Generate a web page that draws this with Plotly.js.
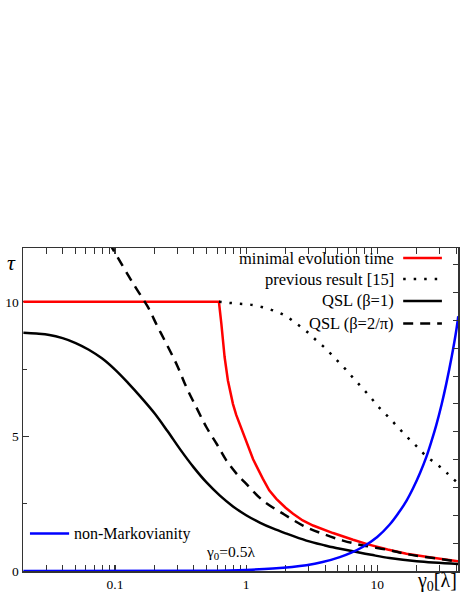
<!DOCTYPE html>
<html>
<head>
<meta charset="utf-8">
<script src="https://cdn.plot.ly/plotly-3.0.1.min.js"></script>
<style>
  html, body { margin: 0; padding: 0; background: #fff; }
  #chart { width: 463px; height: 599px; }
</style>
</head>
<body>
<div id="chart"></div>
<script>
// gamma_0 in units of lambda
const redX = [0.02, 0.62, 0.647, 0.685, 0.726, 0.76, 0.793, 0.84, 0.892, 0.974, 1.03, 1.13, 1.34, 1.5, 1.7, 2, 2.28, 2.7, 3.24, 4.6, 6.54, 8.5, 12, 16.7, 25, 41.5];
const redY = [10, 10, 9.19, 7.95, 7.08, 6.6, 6.21, 5.8, 5.47, 4.95, 4.65, 4.15, 3.43, 3.0, 2.68, 2.35, 2.13, 1.88, 1.69, 1.41, 1.16, 0.99, 0.8, 0.64, 0.51, 0.36];

const prevX = [0.62, 0.75, 0.89, 1.06, 1.31, 1.65, 2.03, 2.42, 2.88, 3.43, 4.09, 4.79, 5.6, 6.56, 7.69, 8.98, 10.4, 12.3, 14.4, 16.9, 20, 23.7, 28.6, 34, 41.5];
const prevY = [10, 9.96, 9.93, 9.9, 9.81, 9.66, 9.46, 9.19, 8.91, 8.57, 8.24, 7.89, 7.55, 7.17, 6.8, 6.43, 6.06, 5.7, 5.34, 4.98, 4.63, 4.26, 3.96, 3.64, 3.25];

const qslX = [0.02, 0.0251, 0.0316, 0.0398, 0.0501, 0.0631, 0.0794, 0.1, 0.126, 0.158, 0.2, 0.251, 0.316, 0.398, 0.501, 0.631, 0.794, 1, 1.27, 1.6, 2, 2.88, 4, 4.6, 6.54, 9, 12.4, 20, 41.5];
const qslY = [8.85, 8.82, 8.77, 8.65, 8.47, 8.22, 7.9, 7.48, 6.98, 6.45, 5.86, 5.2, 4.5, 3.85, 3.28, 2.8, 2.4, 2.07, 1.8, 1.58, 1.4, 1.13, 0.95, 0.88, 0.73, 0.6, 0.48, 0.36, 0.26];

const qsl2X = [0.09, 0.12, 0.145, 0.178, 0.21, 0.246, 0.3, 0.35, 0.42, 0.497, 0.6, 0.706, 0.85, 0.974, 1.34, 1.91, 2.71, 3.85, 5.48, 7.8, 12, 16.7, 25, 41.5];
const qsl2Y = [12.2, 11.16, 10.5, 9.81, 9.1, 8.45, 7.6, 6.83, 6.05, 5.35, 4.7, 4.11, 3.6, 3.3, 2.62, 2.13, 1.69, 1.38, 1.13, 0.95, 0.79, 0.63, 0.5, 0.35];

// non-Markovianity, right axis (no labels)
const nmX = [0.02, 0.5, 1, 1.6, 2.88, 3.83, 5.18, 6.35, 7.8, 10, 12.4, 14.5, 16.7, 18.8, 21.2, 23.7, 26, 28.2, 31, 33.6, 37, 40.2, 41.5];
const nmY = [0, 0.01, 0.04, 0.09, 0.21, 0.32, 0.5, 0.66, 0.87, 1.22, 1.66, 2.08, 2.52, 2.98, 3.52, 4.1, 4.68, 5.24, 5.99, 6.72, 7.7, 8.68, 9.15];

const xTicks = [0.1, 1, 10];
const xTickText = ['0.1', '1', '10'];
const xMinor = [0.03, 0.04, 0.05, 0.06, 0.07, 0.08, 0.09,
                0.2, 0.3, 0.4, 0.5, 0.6, 0.7, 0.8, 0.9,
                2, 3, 4, 5, 6, 7, 8, 9, 20, 30, 40];
const yTicks = [0, 5, 10];

const legendNames = ['minimal evolution time', 'previous result [15]', 'QSL (β=1)', 'QSL (β=2/π)'];

const FONT = 'Times New Roman, Liberation Serif, Tinos, DejaVu Serif, serif';
const AX = '#333';
const DOT = '2.5px,8px';
const DASH = '10px,7px';

const traces = [
  {x: redX, y: redY, mode: 'lines', line: {color: '#ff0000', width: 2.5}, name: legendNames[0]},
  {x: prevX, y: prevY, mode: 'lines', line: {color: '#000', width: 2.5, dash: DOT, shape: 'spline'}, name: legendNames[1]},
  {x: qslX, y: qslY, mode: 'lines', line: {color: '#000', width: 2.5, shape: 'spline'}, name: legendNames[2]},
  {x: qsl2X, y: qsl2Y, mode: 'lines', line: {color: '#000', width: 2.5, dash: DASH, shape: 'spline'}, name: legendNames[3]},
  {x: nmX, y: nmY, mode: 'lines', yaxis: 'y2', line: {color: '#0000ff', width: 2.5, shape: 'spline'}, name: 'non-Markovianity'}
];
traces.forEach(t => { t.showlegend = false; t.hoverinfo = 'skip'; });

// legend keys: text on the left, line sample on the right
const keyRows = [0.969, 0.904, 0.836, 0.766];
const keyStyles = [
  {color: '#ff0000', dash: 'solid'},
  {color: '#000', dash: DOT},
  {color: '#000', dash: 'solid'},
  {color: '#000', dash: DASH}
];
const annotations = legendNames.map((n, i) => ({
  xref: 'paper', yref: 'paper', x: 0.857, y: keyRows[i], xanchor: 'right', yanchor: 'middle',
  text: n, showarrow: false, font: {family: FONT, size: 16.5, color: '#000'}
}));
const shapes = keyStyles.map((s, i) => ({
  type: 'line', xref: 'paper', yref: 'paper', x0: 0.874, x1: 0.963, y0: keyRows[i], y1: keyRows[i],
  line: {color: s.color, width: 2.5, dash: s.dash}
}));
shapes.push({
  type: 'line', xref: 'paper', yref: 'paper', x0: 0.016, x1: 0.106, y0: 0.116, y1: 0.116,
  line: {color: '#0000ff', width: 2.5}
});
annotations.push(
  {xref: 'paper', yref: 'paper', x: 0.112, y: 0.116, xanchor: 'left', yanchor: 'middle',
   text: 'non-Markovianity', showarrow: false, font: {family: FONT, size: 16, color: '#000'}},
  {xref: 'paper', yref: 'paper', x: 0.476, y: 0.056, xanchor: 'center', yanchor: 'middle',
   text: 'γ<sub>0</sub>=0.5λ', showarrow: false, font: {family: FONT, size: 15.5, color: '#000'}},
  {xref: 'paper', yref: 'paper', x: -0.026, y: 0.954, xanchor: 'center', yanchor: 'middle',
   text: '<i>τ</i>', showarrow: false, font: {family: FONT, size: 22, color: '#000'}},
  {xref: 'paper', yref: 'paper', x: 0.952, y: -0.034, xanchor: 'center', yanchor: 'middle',
   text: 'γ<sub>0</sub>[λ]', showarrow: false, font: {family: FONT, size: 20, color: '#000'}}
);

const layout = {
  width: 463, height: 599,
  margin: {l: 23, r: 5, t: 248, b: 28},
  paper_bgcolor: '#fff', plot_bgcolor: '#fff',
  font: {family: FONT, color: '#000'},
  showlegend: false,
  xaxis: {
    type: 'log', range: [-1.702, 1.616],
    tickmode: 'array', tickvals: xTicks, ticktext: xTickText,
    ticks: 'inside', ticklen: 6, tickwidth: 1.2, tickcolor: AX,
    minor: {tickmode: 'array', tickvals: xMinor, ticks: 'inside', ticklen: 3, tickwidth: 1, tickcolor: AX, showgrid: false},
    showline: true, linecolor: AX, linewidth: 1.5, mirror: 'allticks',
    showgrid: false, zeroline: false, layer: 'below traces',
    tickfont: {family: FONT, size: 13.5}
  },
  yaxis: {
    range: [0, 12], tickmode: 'array', tickvals: yTicks,
    ticks: 'inside', ticklen: 6, tickwidth: 1.2, tickcolor: AX,
    minor: {dtick: 2.5, ticks: 'inside', ticklen: 4, tickwidth: 1, tickcolor: AX, showgrid: false},
    showline: true, linecolor: AX, linewidth: 1.5,
    showgrid: false, zeroline: false, layer: 'below traces',
    tickfont: {family: FONT, size: 13.5}
  },
  yaxis2: {
    overlaying: 'y', side: 'right', range: [0, 11.6],
    tickmode: 'linear', tick0: 0, dtick: 1, showticklabels: false,
    ticks: 'inside', ticklen: 5, tickwidth: 1, tickcolor: AX,
    showline: true, linecolor: AX, linewidth: 1.5,
    showgrid: false, zeroline: false
  },
  annotations: annotations,
  shapes: shapes
};

Plotly.newPlot('chart', traces, layout, {displayModeBar: false, staticPlot: true});
</script>
</body>
</html>
